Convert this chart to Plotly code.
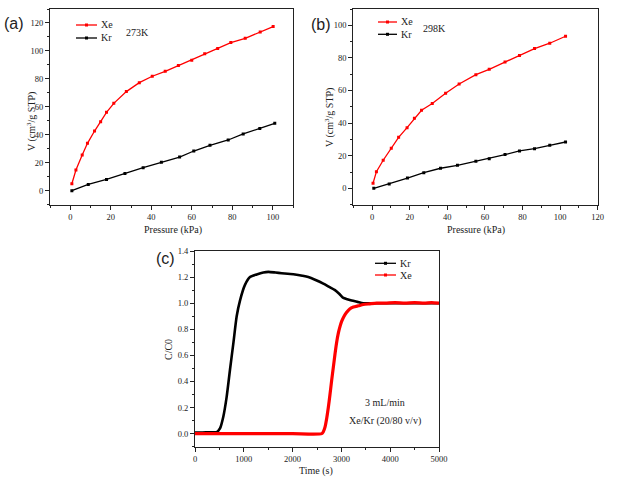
import plotly.graph_objects as go

# ── data ────────────────────────────────────────────────────────────
# (a) 273 K isotherms
xe273_p = [0.8, 2.8, 5.9, 8.5, 12, 15, 17.9, 21.5, 27.7, 34.1, 40.5, 46.9,
           53.4, 60, 66.4, 72.8, 79.3, 86.4, 93.8, 100.2]
xe273_v = [5, 14.8, 25.5, 33.9, 42.7, 49.4, 56.1, 62.5, 70.9, 77.3, 81.9, 85.4,
           89.5, 93.3, 97.9, 101.7, 106, 109, 113.6, 117.4]
kr273_p = [0.8, 8.9, 17.9, 27, 36, 45, 54, 61, 69, 78, 85.4, 93.6, 101]
kr273_v = [0, 4.5, 8.1, 12.4, 16.5, 20.3, 24.1, 28.4, 32.5, 36.3, 40.6, 44.6, 48.2]

# (b) 298 K isotherms
xe298_p = [0.5, 2.3, 5.9, 10.2, 14.1, 18.6, 22.5, 26.3, 32, 39.1, 46.3, 55.2,
           62.3, 70.7, 78.4, 86.4, 94.5, 102.9]
xe298_v = [3.1, 10.2, 17.2, 24.5, 31.3, 37.2, 42.9, 47.9, 52, 58.3, 64, 69.7,
           73, 77.5, 81.4, 85.7, 89, 93.3]
kr298_p = [0.9, 9.1, 18.8, 27.5, 36.4, 45.4, 55.2, 62.3, 70.7, 78.4, 86.4, 94.5, 102.9]
kr298_v = [0, 2.7, 6.3, 9.6, 12.3, 14.1, 16.6, 18.2, 20.7, 22.9, 24.3, 26.4, 28.4]

# (c) breakthrough curves
kr_t = [0, 150, 300, 444, 512, 580, 648, 717, 785, 854, 922, 1024, 1127, 1264,
        1400, 1503, 1650, 1776, 1900, 2049, 2200, 2322, 2459, 2630, 2750, 2869,
        2960, 3040, 3120, 3210, 3330, 3449, 3600, 3800, 4000, 4300, 4600, 5000]
kr_c = [0.008, 0.009, 0.01, 0.012, 0.04, 0.13, 0.28, 0.49, 0.69, 0.90, 1.02, 1.14,
        1.20, 1.22, 1.235, 1.24, 1.235, 1.23, 1.225, 1.22, 1.21, 1.20, 1.18, 1.15,
        1.125, 1.10, 1.07, 1.04, 1.03, 1.02, 1.01, 1.0, 1.0, 1.0, 1.0, 1.0, 1.0, 1.0]
xe_t = [0, 1000, 2000, 2596, 2630, 2664, 2700, 2732, 2766, 2801, 2835, 2869,
        2903, 2937, 2971, 3005, 3055, 3108, 3170, 3245, 3350, 3449, 3580, 3723,
        3900, 4100, 4300, 4500, 4700, 4850, 5000]
xe_c = [0.0, 0.0, 0.0, 0.0, 0.015, 0.05, 0.12, 0.20, 0.30, 0.41, 0.51, 0.61,
        0.70, 0.77, 0.82, 0.86, 0.90, 0.93, 0.955, 0.97, 0.98, 0.99, 0.995, 1.0,
        1.0, 1.005, 1.0, 1.005, 1.0, 1.005, 1.0]

W, H = 618, 484
SERIF = "Liberation Serif"
SANS = "Liberation Sans"
RED = "#FF0000"
BLACK = "#000000"
INK = "#222"


def px(x, y):
    return x / W, 1 - y / H


def dom(x0, x1, y0, y1):
    return [x0 / W, x1 / W], [1 - y1 / H, 1 - y0 / H]


def axis_style(rng, dtick, minor, domain, anchor):
    return dict(
        range=rng, dtick=dtick, tick0=0, domain=domain, anchor=anchor,
        showline=True, linecolor=INK, linewidth=1, mirror=True,
        ticks="outside", ticklen=4, tickwidth=1, tickcolor=INK,
        minor=dict(ticks="outside", dtick=minor, ticklen=2, tickcolor=INK),
        showgrid=False, zeroline=False,
        tickfont=dict(family=SERIF, size=8.5, color=INK),
        automargin=False,
    )


fig = go.Figure()

# (a)
fig.add_trace(go.Scatter(x=xe273_p, y=xe273_v, name="Xe", mode="lines+markers",
                         line=dict(color=RED, width=1.3), marker=dict(symbol="square", size=3),
                         xaxis="x", yaxis="y"))
fig.add_trace(go.Scatter(x=kr273_p, y=kr273_v, name="Kr", mode="lines+markers",
                         line=dict(color=BLACK, width=1.3), marker=dict(symbol="square", size=3),
                         xaxis="x", yaxis="y"))
# (b)
fig.add_trace(go.Scatter(x=xe298_p, y=xe298_v, name="Xe", mode="lines+markers",
                         line=dict(color=RED, width=1.3), marker=dict(symbol="square", size=3),
                         xaxis="x2", yaxis="y2"))
fig.add_trace(go.Scatter(x=kr298_p, y=kr298_v, name="Kr", mode="lines+markers",
                         line=dict(color=BLACK, width=1.3), marker=dict(symbol="square", size=3),
                         xaxis="x2", yaxis="y2"))
# (c)
fig.add_trace(go.Scatter(x=kr_t, y=kr_c, name="Kr", mode="lines",
                         line=dict(color=BLACK, width=2.6, shape="spline", smoothing=0.6),
                         xaxis="x3", yaxis="y3"))
fig.add_trace(go.Scatter(x=xe_t, y=xe_c, name="Xe", mode="lines",
                         line=dict(color=RED, width=3.2, shape="spline", smoothing=0.6),
                         xaxis="x3", yaxis="y3"))

xa, ya = dom(50, 293, 9, 204.7)
xb, yb = dom(353.3, 597.7, 9, 204.6)
xc, yc = dom(195, 439, 251, 446.7)

fig.update_layout(
    width=W, height=H,
    margin=dict(l=0, r=0, t=0, b=0),
    paper_bgcolor="white", plot_bgcolor="white",
    font=dict(family=SERIF, color=INK),
    xaxis=axis_style([-10, 110], 20, 10, xa, "y"),
    yaxis=axis_style([-10, 130], 20, 10, ya, "x"),
    xaxis2=axis_style([-10, 120], 20, 10, xb, "y2"),
    yaxis2=axis_style([-10, 110], 20, 10, yb, "x2"),
    xaxis3=axis_style([0, 5000], 1000, 500, xc, "y3"),
    yaxis3=dict(axis_style([-0.1, 1.4], 0.2, 0.1, yc, "x3"), tickformat=".1f"),
    showlegend=False,
)

# hand-drawn legends: (label, colour, x0, x1, y)
legend_items = [
    ("Xe", RED, 76, 97, 25), ("Kr", BLACK, 76, 97, 38),
    ("Xe", RED, 378, 397, 22), ("Kr", BLACK, 378, 397, 34.3),
    ("Kr", BLACK, 375, 396, 263.3), ("Xe", RED, 375, 396, 275),
]
for label, col, x0, x1, y in legend_items:
    (ax0, ay), (ax1, _) = px(x0, y), px(x1, y)
    fig.add_shape(type="line", xref="paper", yref="paper", x0=ax0, x1=ax1, y0=ay, y1=ay,
                  line=dict(color=col, width=1.3))
    xm = (x0 + x1) / 2
    (mx0, my0), (mx1, my1) = px(xm - 1.5, y + 1.5), px(xm + 1.5, y - 1.5)
    fig.add_shape(type="rect", xref="paper", yref="paper", x0=mx0, x1=mx1, y0=my0, y1=my1,
                  line=dict(width=0), fillcolor=col)
    tx, ty = px(x1 + 1.5, y)
    fig.add_annotation(text=label, x=tx, y=ty, xref="paper", yref="paper", showarrow=False,
                       xanchor="left", yanchor="middle",
                       font=dict(family=SERIF, size=10, color=INK))

texts = [
    ("(a)", 14, 23, 16, SANS, 0),
    ("(b)", 321, 24, 16, SANS, 0),
    ("(c)", 166, 258, 16, SANS, 0),
    ("273K", 137, 32, 10, SERIF, 0),
    ("298K", 434, 29, 10, SERIF, 0),
    ("3 mL/min", 385, 402, 10, SERIF, 0),
    ("Xe/Kr (20/80 v/v)", 385, 421, 10, SERIF, 0),
    ("Pressure (kPa)", 173, 230, 10, SERIF, 0),
    ("Pressure (kPa)", 476, 230, 10, SERIF, 0),
    ("Time (s)", 316, 471, 10, SERIF, 0),
    ("V (cm<sup>3</sup>/g STP)", 32, 122, 10, SERIF, -90),
    ("V (cm<sup>3</sup>/g STP)", 330, 118, 10, SERIF, -90),
    ("C/C0", 168, 350, 10, SERIF, -90),
]
for txt, x, y, size, fam, ang in texts:
    ax, ay = px(x, y)
    fig.add_annotation(text=txt, x=ax, y=ay, xref="paper", yref="paper",
                       showarrow=False, textangle=ang, xanchor="center", yanchor="middle",
                       font=dict(family=fam, size=size, color=INK))

# drop the browser's default 8px body margin so the figure sits at the page origin
fig.write_html("out.html", config={"displayModeBar": False},
               post_script="document.body.style.margin='0px';")
